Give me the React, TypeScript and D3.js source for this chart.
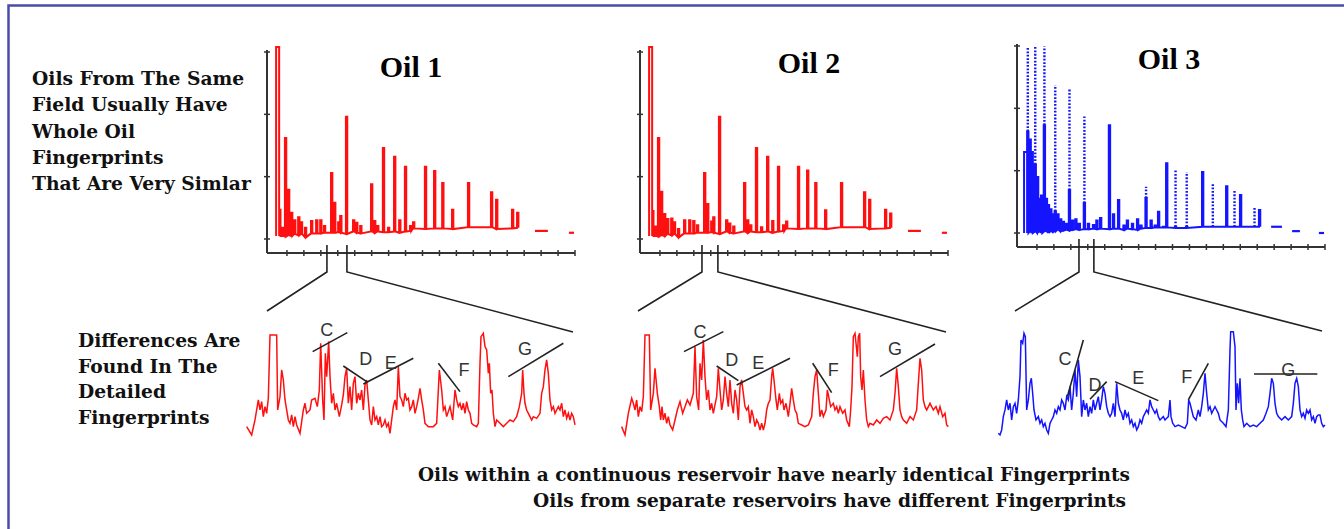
import React from "react";
import * as d3 from "d3";

// ---------- DATA ----------
// Whole-oil chromatograms: [retention time (min), peak height, baseline]
const oil1Peaks: [number, number, number][] = [
  [1.8, 3.08, 0.05], [2.7, 0.47, 0.05], [3.5, 0.18, 0.05], [4.4, 1.62, 0.04], [5.3, 0.79, 0.06],
  [6.2, 0.42, 0.05], [7.1, 0.3, 0.08], [8.3, 0.35, 0.06], [9.1, 0.27, 0.08], [10.3, 0.18, 0.03],
  [12.1, 0.29, 0.09], [13.6, 0.3, 0.09], [14.8, 0.3, 0.09], [15.9, 0.21, 0.1], [18.0, 1.06, 0.1],
  [18.9, 0.58, 0.1], [20.1, 0.27, 0.11], [20.7, 0.37, 0.1], [22.4, 1.96, 0.08], [24.5, 0.3, 0.12],
  [25.4, 0.26, 0.1], [26.6, 0.21, 0.09], [29.8, 0.88, 0.12], [30.7, 0.29, 0.1], [31.6, 0.21, 0.12],
  [33.3, 1.46, 0.11], [34.8, 0.18, 0.11], [36.6, 1.32, 0.12], [38.1, 0.3, 0.1], [39.8, 1.16, 0.12],
  [41.3, 0.21, 0.13], [42.2, 0.27, 0.17], [45.7, 1.16, 0.16], [48.4, 1.09, 0.17], [50.8, 0.9, 0.17],
  [53.7, 0.47, 0.16], [58.4, 0.9, 0.19], [65.2, 0.75, 0.19], [66.7, 0.63, 0.16], [71.4, 0.47, 0.17],
  [72.9, 0.42, 0.18],
];
const oil1Tail: [number, number, number][] = [[78.2, 82.0, 0.13], [88.2, 89.7, 0.1]];

const oil2Peaks: [number, number, number][] = [
  [1.8, 3.08, 0.05], [2.7, 0.45, 0.05], [3.5, 0.2, 0.05], [4.4, 1.62, 0.04], [5.3, 0.76, 0.06],
  [6.2, 0.4, 0.05], [7.1, 0.32, 0.08], [8.3, 0.33, 0.06], [9.1, 0.27, 0.08], [10.3, 0.16, 0.03],
  [12.1, 0.3, 0.09], [13.6, 0.3, 0.09], [14.8, 0.29, 0.09], [15.9, 0.22, 0.1], [18.0, 1.06, 0.1],
  [18.9, 0.56, 0.1], [20.1, 0.28, 0.11], [20.7, 0.35, 0.1], [22.4, 1.96, 0.08], [24.5, 0.3, 0.12],
  [25.4, 0.25, 0.1], [26.6, 0.2, 0.09], [29.8, 0.9, 0.12], [30.7, 0.3, 0.1], [31.6, 0.22, 0.12],
  [33.3, 1.46, 0.11], [34.8, 0.19, 0.11], [36.6, 1.32, 0.12], [38.1, 0.29, 0.1], [39.8, 1.16, 0.12],
  [41.3, 0.22, 0.13], [42.2, 0.28, 0.17], [45.7, 1.16, 0.16], [48.4, 1.1, 0.17], [50.8, 0.9, 0.17],
  [53.7, 0.46, 0.16], [58.4, 0.9, 0.19], [65.2, 0.75, 0.19], [66.7, 0.63, 0.16], [71.4, 0.47, 0.17],
  [72.9, 0.41, 0.18],
];
const oil2Tail: [number, number, number][] = [[78.2, 82.0, 0.13], [88.2, 89.7, 0.1]];

// Oil 3: [retention time, solid height, dotted top (0 = none), baseline]
const oil3Peaks: [number, number, number, number][] = [
  [1.2, 1.3, 0, 0.0], [2.1, 1.63, 2.99, 0.0], [2.8, 1.5, 0, 0.02], [3.4, 1.3, 0, 0.0],
  [4.3, 1.1, 2.99, 0.02], [5.0, 0.9, 0, 0.0], [5.6, 0.55, 0, 0.03], [6.2, 0.6, 0, 0.0],
  [7.0, 1.73, 2.99, 0.02], [7.6, 0.55, 0, 0.04], [8.2, 0.45, 0, 0.0], [8.9, 0.38, 0, 0.03],
  [9.5, 0.3, 0, 0.02], [10.2, 0.35, 2.37, 0.03], [11.0, 0.3, 0, 0.05], [11.8, 0.22, 0, 0.03],
  [12.6, 0.18, 0, 0.04], [13.5, 0.15, 0, 0.05], [14.4, 0.69, 2.32, 0.04], [15.3, 0.2, 0, 0.05],
  [16.3, 0.22, 0, 0.06], [17.3, 0.15, 0, 0.05], [18.8, 0.48, 1.87, 0.06], [20.0, 0.15, 0, 0.06],
  [21.5, 0.13, 0, 0.07], [22.5, 0.2, 0, 0.06], [23.6, 0.24, 0, 0.07], [26.2, 1.73, 0, 0.06],
  [27.4, 0.3, 0, 0.07], [28.9, 0.53, 0, 0.07], [30.5, 0.12, 0, 0.05], [31.5, 0.2, 0, 0.07],
  [33.0, 0.15, 0, 0.06], [34.5, 0.22, 0, 0.05], [35.5, 0.12, 0, 0.07], [37.0, 0.56, 0.74, 0.08],
  [38.5, 0.2, 0, 0.08], [39.7, 0.12, 0, 0.09], [40.7, 0.34, 0, 0.09], [42.2, 0.1, 0, 0.09],
  [43.1, 1.12, 0, 0.09], [45.7, 0.1, 1.01, 0.08], [49.0, 0.1, 0.98, 0.08], [53.7, 0.98, 0, 0.1],
  [56.7, 0.1, 0.8, 0.1], [60.8, 0.75, 0, 0.1], [63.1, 0.1, 0.69, 0.1], [64.9, 0.61, 0, 0.1],
  [69.0, 0.1, 0.43, 0.1], [70.5, 0.37, 0, 0.1],
];
const oil3Tail: [number, number, number][] = [[74.1, 77.3, 0.1], [80.3, 82.6, 0.03], [88.2, 89.7, 0.0]];

// zoom windows (retention-time range magnified below each chromatogram)
const oil1Window = [16.8, 22.7];
const oil2Window = [17.4, 22.1];
const oil3Window = [17.4, 21.8];

const xTickValues = [5, 10, 15, 20, 25, 30, 35, 40, 45, 50, 55, 60, 65, 70, 75, 80, 85, 90];
const yTickValues = [0, 1, 2, 3];

// Detailed fingerprints: [scan, signal]
const detail1: [number, number][] = [
  [50, 50], [65, 25], [75, 70], [85, 130], [90, 100], [95, 125], [100, 80], [105, 110], [110, 90], [115, 135],
  [120, 325], [140, 325], [143, 100], [150, 140], [155, 220], [160, 190], [165, 130], [170, 100], [175, 70], [180, 60],
  [185, 85], [190, 50], [195, 80], [200, 55], [210, 30], [215, 65], [220, 100], [225, 120], [230, 90], [240, 100],
  [245, 130], [255, 135], [262, 110], [268, 160], [272, 300], [278, 130], [282, 70], [286, 270], [290, 200], [296, 305],
  [300, 200], [305, 120], [310, 150], [315, 100], [320, 120], [328, 80], [335, 115], [340, 145], [345, 200], [350, 225],
  [355, 120], [360, 170], [365, 100], [370, 180], [375, 200], [380, 120], [385, 150], [390, 130], [395, 160], [400, 100],
  [405, 175], [410, 190], [415, 130], [420, 70], [425, 55], [430, 110], [435, 70], [440, 80], [445, 55], [450, 80],
  [455, 50], [460, 55], [465, 70], [470, 50], [475, 60], [480, 30], [485, 70], [490, 110], [495, 130], [500, 100],
  [505, 230], [510, 140], [515, 130], [520, 110], [525, 150], [530, 130], [535, 135], [540, 100], [545, 110], [550, 130],
  [555, 90], [560, 110], [565, 135], [570, 165], [575, 130], [580, 100], [585, 60], [590, 55], [595, 50], [610, 50],
  [620, 60], [628, 220], [635, 160], [640, 100], [645, 110], [650, 80], [660, 110], [668, 70], [675, 160], [680, 130],
  [685, 110], [690, 120], [695, 100], [700, 120], [705, 90], [710, 125], [715, 100], [720, 90], [725, 60], [730, 55],
  [740, 50], [745, 60], [750, 240], [753, 320], [760, 330], [765, 290], [770, 280], [775, 210], [778, 240], [782, 150],
  [786, 160], [790, 90], [795, 50], [800, 70], [810, 60], [820, 50], [830, 60], [840, 70], [850, 65], [860, 80],
  [868, 110], [875, 150], [878, 220], [882, 150], [885, 120], [890, 100], [895, 90], [900, 80], [905, 70], [910, 80],
  [920, 75], [930, 90], [935, 150], [940, 170], [945, 220], [950, 250], [955, 210], [960, 130], [965, 100], [970, 110],
  [975, 90], [980, 100], [985, 110], [990, 100], [995, 120], [1000, 80], [1005, 100], [1010, 75], [1015, 90], [1020, 70],
  [1025, 90], [1030, 80], [1035, 55],
];
const detail2: [number, number][] = [
  [65, 50], [75, 25], [85, 90], [95, 135], [100, 120], [105, 100], [110, 130], [115, 80], [120, 110], [125, 95],
  [130, 140], [135, 325], [148, 325], [152, 100], [160, 150], [165, 225], [172, 150], [178, 110], [182, 70], [186, 110],
  [190, 70], [195, 90], [200, 60], [205, 80], [210, 55], [218, 40], [225, 70], [232, 100], [240, 125], [248, 90],
  [255, 110], [262, 130], [270, 115], [280, 150], [285, 290], [290, 140], [296, 100], [300, 240], [305, 190], [310, 310],
  [315, 200], [320, 130], [325, 160], [330, 100], [335, 120], [340, 90], [345, 115], [350, 140], [355, 225], [360, 160],
  [365, 100], [370, 130], [375, 200], [380, 150], [385, 110], [390, 190], [395, 120], [400, 90], [405, 160], [410, 130],
  [415, 70], [420, 170], [425, 190], [430, 150], [435, 110], [440, 100], [445, 110], [450, 60], [455, 100], [460, 80],
  [465, 50], [470, 70], [475, 60], [480, 40], [485, 60], [490, 40], [495, 60], [500, 100], [505, 120], [510, 130],
  [515, 200], [518, 225], [522, 190], [528, 130], [532, 100], [538, 150], [542, 120], [548, 130], [552, 100], [558, 120],
  [565, 80], [570, 120], [575, 165], [580, 130], [585, 100], [590, 90], [595, 60], [605, 55], [615, 50], [625, 55],
  [635, 80], [640, 150], [645, 200], [650, 220], [655, 150], [660, 80], [665, 100], [670, 80], [678, 100], [682, 160],
  [688, 130], [692, 110], [700, 120], [705, 100], [710, 110], [715, 90], [720, 110], [728, 90], [735, 100], [740, 70],
  [748, 50], [752, 100], [756, 170], [760, 320], [765, 330], [768, 300], [772, 260], [775, 320], [779, 330], [782, 200],
  [786, 160], [790, 220], [795, 130], [800, 70], [805, 50], [810, 60], [820, 55], [830, 70], [840, 60], [850, 75],
  [860, 80], [870, 70], [880, 100], [885, 150], [890, 225], [895, 170], [900, 100], [905, 80], [910, 70], [920, 60],
  [930, 80], [940, 70], [950, 100], [955, 180], [960, 255], [965, 220], [970, 130], [975, 110], [980, 100], [990, 120],
  [1000, 100], [1008, 110], [1015, 90], [1020, 110], [1028, 80], [1035, 90], [1040, 55], [1045, 50],
];
const detail3: [number, number][] = [
  [55, 30], [60, 25], [65, 40], [70, 80], [75, 100], [80, 130], [85, 100], [90, 120], [95, 70], [100, 110],
  [105, 120], [110, 90], [115, 130], [120, 200], [123, 310], [128, 300], [132, 330], [136, 320], [140, 100], [145, 130],
  [150, 180], [154, 195], [158, 150], [162, 100], [168, 70], [175, 80], [180, 60], [185, 70], [190, 50], [195, 60],
  [200, 40], [205, 30], [210, 60], [215, 70], [220, 80], [225, 100], [230, 90], [235, 110], [240, 100], [245, 130],
  [250, 120], [255, 100], [260, 140], [265, 130], [270, 170], [275, 100], [280, 150], [285, 220], [290, 140], [295, 250],
  [300, 200], [305, 80], [310, 130], [315, 100], [320, 120], [325, 80], [330, 110], [335, 90], [340, 130], [345, 100],
  [350, 120], [355, 140], [360, 100], [365, 130], [370, 170], [375, 150], [380, 110], [385, 90], [390, 80], [395, 90],
  [400, 120], [405, 80], [410, 180], [415, 120], [420, 100], [425, 90], [430, 70], [435, 100], [440, 80], [445, 90],
  [450, 60], [455, 70], [460, 50], [465, 60], [470, 40], [475, 50], [480, 70], [485, 60], [490, 80], [495, 90],
  [500, 100], [505, 90], [510, 130], [515, 110], [520, 100], [525, 90], [530, 100], [535, 80], [540, 70], [545, 75],
  [550, 80], [555, 70], [560, 75], [565, 80], [570, 130], [573, 80], [578, 60], [585, 50], [595, 55], [605, 50],
  [615, 45], [622, 60], [626, 130], [630, 120], [635, 100], [640, 80], [648, 70], [655, 100], [660, 80], [665, 110],
  [670, 150], [675, 210], [680, 150], [685, 100], [690, 110], [695, 90], [700, 100], [705, 110], [710, 100], [715, 90],
  [720, 70], [730, 60], [738, 50], [745, 100], [750, 280], [752, 335], [760, 335], [765, 290], [768, 100], [772, 180],
  [776, 120], [780, 195], [784, 100], [788, 70], [792, 50], [800, 60], [810, 50], [820, 55], [830, 50], [840, 60],
  [850, 70], [858, 90], [865, 110], [870, 150], [875, 195], [880, 180], [885, 120], [890, 90], [895, 80], [905, 70],
  [915, 80], [925, 70], [935, 80], [940, 120], [945, 180], [950, 195], [955, 170], [960, 100], [965, 80], [970, 90],
  [975, 75], [980, 100], [985, 90], [990, 100], [995, 70], [1000, 80], [1005, 60], [1010, 80], [1015, 85], [1020, 85],
  [1025, 60], [1030, 50], [1035, 55],
];

// Peak-group annotations: [label, scan1, signal1, scan2, signal2, labelScan, labelSignal]
type Ann = [string, number, number, number, number, number, number];
const ann1: Ann[] = [
  ["C", 248, 275, 352, 332, 290, 340], ["D", 340, 232, 410, 185, 407, 252],
  ["E", 400, 178, 550, 255, 482, 242], ["F", 625, 240, 690, 155, 702, 220],
  ["G", 835, 200, 1000, 300, 885, 283],
];
const ann2: Ann[] = [
  ["C", 252, 275, 370, 335, 300, 335], ["D", 350, 232, 415, 188, 395, 250],
  ["E", 410, 175, 570, 255, 475, 240], ["F", 638, 240, 695, 152, 700, 220],
  ["G", 840, 200, 1005, 298, 885, 282],
];
const ann3: Ann[] = [
  ["C", 262, 140, 310, 310, 255, 252], ["D", 330, 132, 380, 185, 345, 175],
  ["E", 405, 185, 535, 128, 475, 195], ["F", 625, 130, 685, 240, 620, 200],
  ["G", 822, 208, 1012, 208, 925, 220],
];

const leftNote = ["Oils From The Same", "Field Usually Have", "Whole Oil", "Fingerprints", "That Are Very Simlar"];
const detailNote = ["Differences Are", "Found In The", "Detailed", "Fingerprints"];
const caption = [
  "Oils within a continuous reservoir have nearly identical Fingerprints",
  "Oils from separate reservoirs have different Fingerprints",
];

// ---------- LAYOUT ----------
const RED = "#ff1010";
const BLUE = "#1414ff";
const AXIS = "#333";

const panels = [
  { title: "Oil 1", ox: 267, oy: 239, axisY: 253, tx: 411, ty: 77, dl: 230, cl: [267, 311], cr: [573, 332],
    peaks: oil1Peaks, tail: oil1Tail, win: oil1Window, detail: detail1, ann: ann1, color: RED },
  { title: "Oil 2", ox: 640, oy: 239, axisY: 253, tx: 809, ty: 73, dl: 600, cl: [638, 311], cr: [946, 332],
    peaks: oil2Peaks, tail: oil2Tail, win: oil2Window, detail: detail2, ann: ann2, color: RED },
  { title: "Oil 3", ox: 1017, oy: 233, axisY: 247, tx: 1169, ty: 69, dl: 980, cl: [1015, 311], cr: [1322, 331],
    peaks: oil3Peaks.map((p) => [p[0], p[1], p[3]] as [number, number, number]), tail: oil3Tail,
    win: oil3Window, detail: detail3, ann: ann3, color: BLUE, dotted: oil3Peaks },
];

function Panel({ p }: { p: any }) {
  const x = d3.scaleLinear().domain([0, 90]).range([p.ox + 3, p.ox + 308]);
  const y = d3.scaleLinear().domain([0, 3]).range([p.oy, p.oy - 187]);
  const pts: [number, number][] = [];
  p.peaks.forEach(([t, h, b]: [number, number, number], i: number) => {
    const w = i === 0 ? 0.9 : 0.4;
    pts.push([t, b], [t, h], [t + w, h], [t + w, b]);
  });
  const line = d3.line<[number, number]>().x((d) => x(d[0])).y((d) => y(d[1]));
  const dx = d3.scaleLinear().domain([0, 1080]).range([p.dl, p.dl + 360]);
  const dy = d3.scaleLinear().domain([0, 330]).range([443.3, 333.3]);
  const dline = d3.line<[number, number]>().x((d) => dx(d[0])).y((d) => dy(d[1]));
  const bottomY = 272;
  return (
    <g>
      {/* axes */}
      <line x1={p.ox} x2={p.ox} y1={y(3) - 2} y2={p.axisY} stroke={AXIS} strokeWidth={2} />
      <line x1={p.ox} x2={p.ox + 308} y1={p.axisY} y2={p.axisY} stroke={AXIS} strokeWidth={2} />
      {yTickValues.map((v) => (
        <line key={v} x1={p.ox - 3} x2={p.ox + 3} y1={y(v)} y2={y(v)} stroke={AXIS} strokeWidth={1.5} />
      ))}
      {xTickValues.map((v) => (
        <line key={v} x1={x(v)} x2={x(v)} y1={p.axisY - 3} y2={p.axisY + 3} stroke={AXIS} strokeWidth={1.5} />
      ))}
      {/* chromatogram */}
      <path d={line(pts) || ""} fill="none" stroke={p.color} strokeWidth={2} strokeLinejoin="miter" />
      {p.tail.map((s: number[], i: number) => (
        <line key={i} x1={x(s[0])} x2={x(s[1])} y1={y(s[2])} y2={y(s[2])} stroke={p.color} strokeWidth={2.2} />
      ))}
      {p.dotted &&
        p.dotted
          .filter((d: number[]) => d[2] > 0)
          .map((d: number[], i: number) => (
            <line key={i} x1={x(d[0] + 0.2)} x2={x(d[0] + 0.2)} y1={y(Math.max(d[1], d[3]))} y2={y(d[2])}
              stroke={p.color} strokeWidth={2.4} strokeDasharray="1.8 1.6" />
          ))}
      <text x={p.tx} y={p.ty} textAnchor="middle" fontFamily="'Liberation Serif', serif" fontWeight="bold" fontSize={30} fill="#000">
        {p.title}
      </text>
      {/* zoom connector */}
      <polyline points={`${x(p.win[0])},${p.axisY - 8} ${x(p.win[0])},${bottomY} ${p.cl[0]},${p.cl[1]}`} fill="none" stroke="#222" strokeWidth={1.6} />
      <polyline points={`${x(p.win[1])},${p.axisY - 8} ${x(p.win[1])},${bottomY} ${p.cr[0]},${p.cr[1]}`} fill="none" stroke="#222" strokeWidth={1.6} />
      {/* detail trace */}
      <path d={dline(p.detail) || ""} fill="none" stroke={p.color} strokeWidth={1.5} />
      {p.ann.map((a: Ann) => (
        <g key={a[0]}>
          <line x1={dx(a[1])} y1={dy(a[2])} x2={dx(a[3])} y2={dy(a[4])} stroke="#222" strokeWidth={1.6} />
          <text x={dx(a[5])} y={dy(a[6])} textAnchor="middle" dominantBaseline="central"
            fontFamily="'Liberation Sans', Arial, sans-serif" fontSize={18} fill="#333">
            {a[0]}
          </text>
        </g>
      ))}
    </g>
  );
}

export default function App() {
  return (
    <svg width={1344} height={529} style={{ position: "absolute", left: 0, top: 0, background: "#fff" }}>
      <rect x={8.5} y={5.5} width={1400} height={600} fill="none" stroke="#4b4ba8" strokeWidth={2.5} />
      {leftNote.map((s, i) => (
        <text key={i} x={32} y={85 + i * 26.3} fontFamily="'DejaVu Serif', serif" fontWeight="bold" fontSize={18.7} fill="#111">
          {s}
        </text>
      ))}
      {detailNote.map((s, i) => (
        <text key={i} x={78} y={347 + i * 25.7} fontFamily="'DejaVu Serif', serif" fontWeight="bold" fontSize={18.7} fill="#111">
          {s}
        </text>
      ))}
      <text x={418} y={481} textLength={712} lengthAdjust="spacingAndGlyphs" fontFamily="'DejaVu Serif', serif" fontWeight="bold" fontSize={19} fill="#111">
        {caption[0]}
      </text>
      <text x={533} y={507} textLength={593} lengthAdjust="spacingAndGlyphs" fontFamily="'DejaVu Serif', serif" fontWeight="bold" fontSize={19} fill="#111">
        {caption[1]}
      </text>
      {panels.map((p) => (
        <Panel key={p.title} p={p} />
      ))}
    </svg>
  );
}
